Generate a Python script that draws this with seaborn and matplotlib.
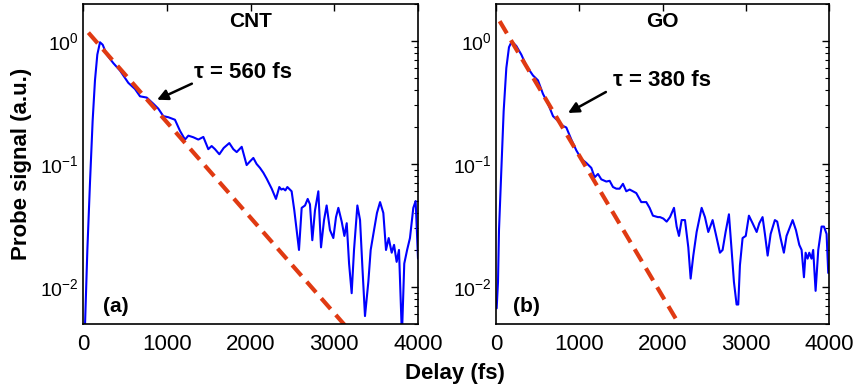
import numpy as np
import pandas as pd
import matplotlib
matplotlib.use("Agg")
import matplotlib.pyplot as plt
import seaborn as sns

# ---------------- data ----------------
cnt_delay = [20, 52, 84, 115, 143, 171, 203, 235, 283, 362, 442, 541, 621, 681, 760,
             840, 899, 959, 1019, 1098, 1158, 1218, 1258, 1317, 1377, 1437, 1496, 1536,
             1576, 1628, 1680, 1747, 1795, 1835, 1895, 1954, 1994, 2034, 2073, 2113,
             2153, 2193, 2253, 2304, 2344, 2368, 2392, 2416, 2440, 2491, 2523, 2551,
             2579, 2611, 2651, 2683, 2710, 2738, 2770, 2810, 2842, 2878, 2909, 2949,
             2989, 3021, 3049, 3089, 3121, 3149, 3177, 3208, 3236, 3276, 3308, 3336,
             3367, 3407, 3435, 3475, 3510, 3547, 3586, 3618, 3650, 3686, 3714, 3745,
             3773, 3808, 3836, 3870, 3904, 3944, 3972, 4000]
cnt_signal = [0.004, 0.020, 0.072, 0.224, 0.479, 0.776, 0.977, 0.933, 0.776, 0.661,
              0.575, 0.457, 0.407, 0.355, 0.347, 0.309, 0.282, 0.245, 0.240, 0.229,
              0.186, 0.158, 0.170, 0.165, 0.158, 0.166, 0.132, 0.140, 0.132, 0.120,
              0.135, 0.148, 0.132, 0.125, 0.138, 0.098, 0.105, 0.112, 0.100, 0.093,
              0.085, 0.076, 0.063, 0.052, 0.065, 0.062, 0.063, 0.061, 0.065, 0.060,
              0.042, 0.029, 0.020, 0.044, 0.046, 0.052, 0.047, 0.024, 0.042, 0.060,
              0.021, 0.035, 0.046, 0.029, 0.025, 0.037, 0.044, 0.034, 0.026, 0.033,
              0.0155, 0.0089, 0.020, 0.046, 0.035, 0.0145, 0.0058, 0.011, 0.020, 0.029,
              0.040, 0.049, 0.040, 0.020, 0.025, 0.019, 0.022, 0.016, 0.020, 0.004,
              0.0155, 0.020, 0.025, 0.044, 0.050, 0.017]

go_delay = [8, 24, 36, 64, 92, 124, 156, 184, 204, 244, 304, 364, 444, 504, 564, 625,
            685, 745, 805, 845, 905, 965, 1025, 1085, 1145, 1185, 1225, 1265, 1325,
            1365, 1405, 1445, 1485, 1525, 1565, 1605, 1645, 1685, 1745, 1805, 1845,
            1885, 1945, 1970, 2010, 2050, 2090, 2138, 2170, 2198, 2230, 2270, 2310,
            2338, 2370, 2410, 2470, 2510, 2550, 2602, 2640, 2690, 2722, 2758, 2798,
            2830, 2858, 2890, 2910, 2930, 2962, 3000, 3038, 3082, 3131, 3163, 3202,
            3230, 3263, 3299, 3350, 3378, 3418, 3458, 3490, 3563, 3603, 3643, 3671,
            3699, 3719, 3743, 3763, 3790, 3810, 3839, 3871, 3911, 3939, 3971, 3991]
go_signal = [0.0067, 0.011, 0.029, 0.089, 0.269, 0.603, 0.891, 0.977, 0.970, 0.912,
             0.776, 0.631, 0.525, 0.479, 0.372, 0.309, 0.245, 0.224, 0.204, 0.198,
             0.158, 0.129, 0.110, 0.102, 0.093, 0.078, 0.083, 0.075, 0.072, 0.073,
             0.065, 0.063, 0.063, 0.069, 0.060, 0.062, 0.060, 0.058, 0.049, 0.049,
             0.044, 0.038, 0.037, 0.037, 0.036, 0.034, 0.037, 0.044, 0.031, 0.026,
             0.035, 0.035, 0.021, 0.0117, 0.018, 0.028, 0.044, 0.037, 0.028, 0.035,
             0.027, 0.019, 0.020, 0.028, 0.039, 0.020, 0.011, 0.0072, 0.0072, 0.015,
             0.025, 0.026, 0.038, 0.033, 0.028, 0.033, 0.037, 0.027, 0.018, 0.027,
             0.035, 0.034, 0.025, 0.019, 0.026, 0.035, 0.029, 0.022, 0.020, 0.012,
             0.019, 0.017, 0.019, 0.017, 0.020, 0.0093, 0.020, 0.031, 0.031, 0.027,
             0.013]

# exponential fits (straight lines on log axis), end points
cnt_fit_delay = [64, 3125]
cnt_fit_signal = [1.17, 0.0049]
go_fit_delay = [44, 2205]
go_fit_signal = [1.45, 0.0049]

panels = ["CNT", "GO"]
panel_tags = ["(a)", "(b)"]
tau_labels = ["\u03c4 = 560 fs", "\u03c4 = 380 fs"]
x_ticks = [0, 1000, 2000, 3000, 4000]

# ---------------- style ----------------
sns.set_theme(style="white")
plt.rcParams["font.family"] = ["Liberation Sans", "DejaVu Sans"]
plt.rcParams["mathtext.fontset"] = "custom"
plt.rcParams["mathtext.rm"] = "Liberation Sans"
plt.rcParams["mathtext.it"] = "Liberation Sans"
plt.rcParams["mathtext.bf"] = "Liberation Sans:bold"
for key in ["text.color", "axes.labelcolor", "xtick.color", "ytick.color",
            "axes.edgecolor"]:
    plt.rcParams[key] = "black"

BLUE = "#0000FF"
RED = "#E03A12"

fig = plt.figure(figsize=(8.57, 3.91), dpi=100)
ax_a = fig.add_axes([83 / 857, 1 - 324 / 391, 335 / 857, 320 / 391])
ax_b = fig.add_axes([496 / 857, 1 - 324 / 391, 333 / 857, 320 / 391])

datasets = [
    (ax_a, cnt_delay, cnt_signal, cnt_fit_delay, cnt_fit_signal),
    (ax_b, go_delay, go_signal, go_fit_delay, go_fit_signal),
]
arrows = [
    dict(head=(884, 0.333), tail=(1300, 0.45), text=(1330, 0.55)),
    dict(head=(865, 0.26), tail=(1320, 0.385), text=(1400, 0.474)),
]

for i, (ax, t, s, ft, fs) in enumerate(datasets):
    df = pd.DataFrame({"delay": t, "signal": s})
    dfit = pd.DataFrame({"delay": ft, "signal": fs})
    sns.lineplot(data=df, x="delay", y="signal", ax=ax, color=BLUE, lw=1.5,
                 estimator=None, sort=False)
    sns.lineplot(data=dfit, x="delay", y="signal", ax=ax, color=RED, lw=3.0,
                 estimator=None, sort=False, linestyle=(0, (3.4, 1.9)))
    ax.set_yscale("log")
    ax.set_xlim(0, 4000)
    ax.set_ylim(5e-3, 2)
    ax.set_xticks(x_ticks)
    ax.set_xticklabels([str(v) for v in x_ticks])
    ax.set_xlabel("")
    ax.set_ylabel("")
    ax.tick_params(axis="both", which="both", direction="in", top=True, right=True,
                   colors="black")
    ax.tick_params(axis="x", which="major", length=5, width=1, labelsize=16, pad=7)
    ax.tick_params(axis="y", which="major", length=5, width=1, labelsize=14, pad=3)
    ax.tick_params(axis="y", which="minor", length=3, width=0.8)
    for sp in ax.spines.values():
        sp.set_color("black")
        sp.set_linewidth(1.2)
    ax.text(0.5, 0.945, panels[i], transform=ax.transAxes, ha="center", va="center",
            fontsize=15, fontweight="bold", color="black")
    ax.text(0.06 if i == 0 else 0.052, 0.055, panel_tags[i], transform=ax.transAxes,
            ha="left", va="center", fontsize=15, fontweight="bold", color="black")
    arr = arrows[i]
    ax.annotate("", xy=arr["head"], xytext=arr["tail"],
                arrowprops=dict(arrowstyle="-|>", color="black", lw=1.8,
                                mutation_scale=16, shrinkA=0, shrinkB=0))
    ax.text(arr["text"][0], arr["text"][1], tau_labels[i], ha="left", va="center",
            fontsize=16, fontweight="bold", color="black")

fig.text(22 / 857, 1 - 164 / 391, "Probe signal (a.u.)", rotation=90, ha="center",
         va="center", fontsize=16, fontweight="bold", color="black")
fig.text(455 / 857, 1 - 373 / 391, "Delay (fs)", ha="center", va="center",
         fontsize=16, fontweight="bold", color="black")

fig.savefig("out.png", dpi=100)
